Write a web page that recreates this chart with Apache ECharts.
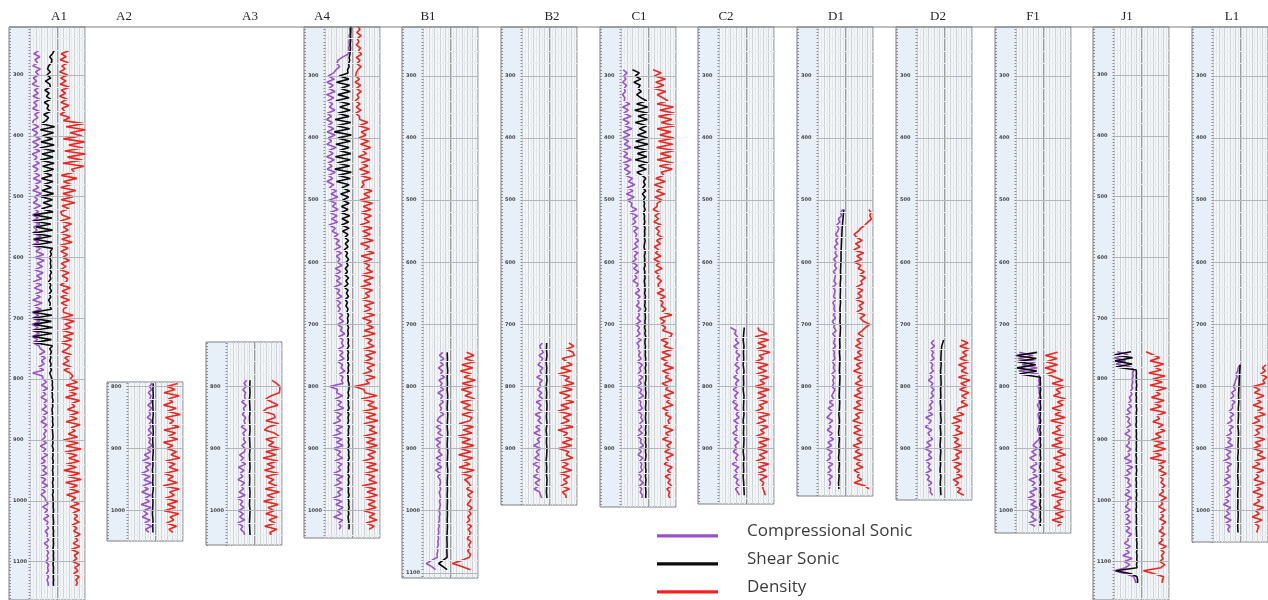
<!DOCTYPE html>
<html>
<head>
<meta charset="utf-8">
<title>Well log correlation</title>
<script src="https://cdn.jsdelivr.net/npm/echarts@6/dist/echarts.min.js"></script>
<style>
  html, body { margin: 0; padding: 0; background: #ffffff; }
  #chart { width: 1268px; height: 600px; }
</style>
</head>
<body>
<div id="chart"></div>
<script>
// ---- Wells, depth labels and sampling ----
const wells = ['A1', 'A2', 'A3', 'A4', 'B1', 'B2', 'C1', 'C2', 'D1', 'D2', 'F1', 'J1', 'L1'];
const depthLabels = [300, 400, 500, 600, 700, 800, 900, 1000, 1100];
const compStep = 5;   // compressional sonic and density sampling interval
// shear sonic sampling interval per well
const shearSteps = [5, 10, 10, 5, 10, 10, 5, 10, 10, 10, 5, 5, 10];
// depth of the first log sample in each well
const logTops = [260, 795, 790, 220, 745, 730, 290, 705, 515, 725, 745, 755, 765];

// ---- Log curves: sonic values are % of the sonic track, density % of the density track ----
const a1Comp = [30,12,34,16,26,8,36,18,30,10,22,6,32,14,28,9,35,12,24,8,33,15,27,10, 8,30,6,26,12,36,7,30,10,34,6,24,14,32,8,28, 12,34,10,38,16,30,8,40,14,26,10,36,12,30, 7,28,6,34,12,24,8,38,10,30,6,36, 20,48,16,50,24,44,14,46,22,40, 10,40,14,44,18,36,8,42,12,38, 6,30,8,34,5,28,10,32,6,26,8,30, 36,52,32,54,40,50,30,48,8,44, 46,58,40,62,44,56,38,60,48,58,42,62,44,56,38,60,46,58,48,54, 42,58,36,56,44,62,40,54,38,58,44,60,36,56,42,62,40,54,38,52, 56,64,44,62,52,66,48,64,58,66,54,62,60,66,50,64,58,66,60,64,56,66,62,65,58,66,60,64,65];
const a1Shear = [86,80,70,78,76,66,62,72, 60,74,54,70,72,52,68,58,74,50,66,60,72,48,66,56, 40,88,36,84,44,80,38,86,34,88,42,82,36,86,44,84, 46,78,40,82,48,76,42,84,38,80,46,78,40,82, 12,78,10,74,20,80,8,76,14,78,10,80, 72,76,70,74,72,75,71,76,70,74, 66,74,70,76,68,74,66,72,70,76, 10,78,8,76,12,80,6,78,10,76,14,80, 70,76,72,74,70,75,72,76,70,74, 78,80,79,81,78,80,79,82,80,81,78,80,79,81,80,82,79,80,81,82, 80,82,79,83,81,82,80,83,81,82,80,82,81,83,80,82,81,83,80,82, 82,83,82,84,83,82,83,84,83,82,84,83,84,83,84,83,82,84,83,84,83,82,84,83,84,83,84,83,84];
const a1Dens = [40,12,30,8,38,14,26,6,36,10,30,8,42,12,28,6,34,10,40,14,26,8,44,20, 95,30,100,45,88,20,98,40,92,25,100,35,90,18,96,50, 60,12,70,20,48,10,66,18,55,12,62,15,40,10, 15,45,8,50,20,38,10,46,14,52,8,38, 10,35,18,42,12,30,8,40,15,36, 30,8,45,15,38,10,42,12,36,20, 20,55,12,60,25,48,15,58,20,52,12,48, 35,15,50,25,40,18,48,22,45,55, 45,72,30,75,40,68,28,80,50,62,35,76,42,70,30,82,48,64,38,72, 20,75,30,85,25,70,40,78,30,68,22,80,35,86,28,72,42,78,32,66, 50,78,45,80,55,72,60,78,52,70,58,82,62,74,56,80,48,76,60,70,54,80,62,74,58,78,66,72,66];

const a2Comp = [86,76,84,72,82,78,86,70,84,74,80,68,86,76,82,72,84,70,80,74,86,68, 80,58,76,50,82,62,74,46,78,56,84,52,72,48,80,60,76,46,82,54,70,50,78,58,84,62,74];
const a2Shear = [90,89,90,88,89,90,88,89,90,88, 89,90,88,89,87,89,88,90,87,89, 88,87,89,88,89];
const a2Dens = [80,40,70,30,85,45,62,28,75,42,90,35,66,50,85,30,72,45,80,28,62,40,76,55,88,36,70,48,82,30,64,44,78,26,86,50,68,34,80,42,72,30,84,52,66,38,76,48,62];

const a3Comp = [70,60,68,56,66,62,64,52,68,58,62,54,66,60,64,50,68,56,62,58,66,52,64, 62,44,58,48,66,40,60,46,56,38,62,50,58,42,64,36,56,46,60,40,58,44,62,36,56,48,60,62];
const a3Shear = [82,81,82,80,81,82,80,81,82,80, 81,82,80,81,82,80,81,80,82,81, 80,82,81,80,81,82];
const a3Dens = [63,80,92,92,90,60,40,62,85,45,30,70,75,40,88,50,35,72,88,40,70,50,90,40,78,30,85,45,72,35,88,40,70,50,80,38,90,45,72,32,86,48,70,40,82,52,75,36,80,55,60];

const a4Comp = [90,88,89,86,88,85,87,84,86,82, 60,45,42,52,38,30, 10,32,5,28,12,35,4,30,8,26,14,34,6,22, 4,25,8,30,6,35,10,22,5,38,12,28,4,32,9,24,6,36,10,26,5,30, 14,40,20,45,12,38,25,46,16,42,22,44,12,36,24,46, 30,50,38,55,32,58,40,52,44,60,36,56,34,54,40,58,30,52,42,60,38,56,44,54, 46,62,50,66,44,60,54,70,48,64,58,66,46,64,52,68,44,62,56,70,50,64,58,64, 15,44, 40,62,35,58,45,66,30,60,42,55,28,62,38,58,25,60,40,64,30,56,44,62,34,60,46,56,28,64,40,58,32,62,44,56,26,60,38,64,42,58,30,62,48,56,50];
const a4Shear = [93,92,92,91,92,91,90,91,90,89, 86,88,84,86,80,82, 50,85,40,88,55,90,45,86,38,88,52,90,44,86, 35,92,40,88,32,94,45,90,38,86,50,92,36,90,42,88,34,94,46,90,40,86, 60,88,55,84,62,86,58,82,56,88,60,84,58,86,62,82, 70,84,72,82,68,80,74,84,76,82,72,80,70,84,74,82,68,82,76,84,72,80,74,82, 78,84,80,82,79,84,81,83,80,84,82,85,79,84,81,83,80,85,82,84,80,83,82,85, 86,85, 82,85,81,84,83,86,80,85,82,84,81,86,83,84,82,85,83,86,82,85,84,86,82,85,83,84,81,86,83,85,82,84,83,86,82,85,84,86,83,85,82,84,85,86,85];
const a4Dens = [18,26,14,30,16,22,12,28,20,32,12,26,14,30,18,12, 10,24,8,28,12,30,15,22,8,26,12,30,10,24, 25,55,20,60,30,48,22,58,28,65,35,50,20,62,30,55,24,60,28,66,34,40, 30,70,40,62,25,72,38,66,30,68,42,60,26,70,36,64, 35,75,28,60,45,78,30,70,38,62,48,72,32,76,40,66,28,72,46,60,34,78,42,68, 40,80,35,68,50,76,42,82,36,70,55,78,38,84,46,72,40,80,52,70,36,82,48,60, 5,40, 45,88,30,78,55,90,35,85,48,92,40,80,60,88,38,82,50,90,45,84,55,78,36,86,50,92,42,80,58,88,34,84,52,90,44,82,56,86,40,80,60,88,48,78,60];

const b1Comp = [70,58,74,60,72,54,70,62,76,56,68,60,74,52,70,62,72,58,66,60,74,56, 50,68,46,64,52,70,44,62,48,60,54,68,46,64,50,66,44,62,52,60, 62,58,63,57,60,62,58,61,59,56,60,57,58,55,57,54,56,53,55,52,54,50,52,49,50,30, 10,30,44];
const b1Shear = [86,87,86,88,86,87,86,88,87,86,88, 87,86,88,87,86,88,87,86,88, 87,86,87,86,87,86,87,86,87,86,85,86,85,86, 55,86];
const b1Dens = [58,85,50,88,40,80,35,75,48,90,42,82,38,76,52,88,36,72,46,84,40,78, 70,30,82,45,78,25,72,40,85,35,74,28,80,44,70,30,86,38,76,50, 65,72,58,80,62,75,70,60,78,66,74,62,70,58,76,64,72,68,60,74,66,70,62,72,68,40, 5,40,72];

const b2Comp = [72,62,68,76,60,74,66,56,74,64,70,52,72,62,66,54,70,60,74,50, 68,58,72,46,66,56,70,48,64,42,68,54,62,40,66,50,60,44,64,38, 62,50,58,40,64,46,60,42,62,66,70];
const b2Shear = [88,87,89,86,88,87,89,86,88,87, 89,88,87,89,86,88,87,89,88,86, 88,87,89,88,87,89];
const b2Dens = [70,88,60,85,90,45,62,82,40,78,30,72,56,88,45,82,35,75,50,88, 40,70,28,80,48,72,40,85,30,65,50,82,45,80,32,70,60,84,40,68, 45,80,36,72,50,64,40,72,46,58,60];

const c1Comp = [6,20,8,16,4,18,10,14,4,12, 10,30,4,25,8,35,5,28,12,38,6,30,4,26,10,34,5,22,8,36,6,28,10,32, 15,40,25,48,20,42,18,46,22,38, 35,55,30,58,42,52,38,60,45,56,50,62,48,58,40,60,46,54,38,58,44,62,48,56,42,60, 55,66,50,68,58,64,54,70,60,66,56,70,52,66,58,68,54,72,56,64,60,68, 62,72,58,76,66,70,60,78,64,72,58,74,66,80,62,70,68,76,60,74,70,78,66,74,62,76,58,72,68,80,64,72,60,78,66,74,70,76,62,72,66,80,64,74,68,76,74];
const c1Shear = [40,65,50,70,45,68,60,72,55,70, 92,55,95,48,96,60,94,50,92,65,90,58,95,52,96,46,94,58,92,50,96,62,90,56, 75,88,80,86,78,88,76,86,80,84, 82,86,80,84,83,85,82,86,84,85,83,86,84,82,85,86,83,85,84,86,82,85,84,86,83,85, 85,86,84,87,85,86,84,88,85,86,87,85,86,84,87,85,88,86,85,87,86,87, 86,88,87,89,86,88,87,89,88,86,88,87,89,88,87,89,88,87,89,88,87,88,89,88,87,89,86,88,87,89,88,87,89,88,86,88,87,89,88,87,89,88,87,88,89,88,88];
const c1Dens = [15,45,20,60,25,55,18,62,30,50, 70,30,90,40,95,35,85,45,96,30,80,40,92,35,88,28,94,42,82,30,90,38,86,45, 55,25,60,20,50,28,58,22,48,30, 30,15,40,22,35,18,45,25,38,30,50,28,42,20,36,24,44,18,40,26,48,22,38,30,46,34, 35,55,30,60,40,52,45,62,48,85,40,58,44,62,50,86,80,45,70,55,90,48, 80,45,70,55,90,50,75,60,85,48,70,62,92,55,78,65,88,50,72,60,82,70,76,54,88,62,74,50,84,66,78,58,90,64,72,56,86,68,80,60,78,70,84,66,76,72,78];

const c2Comp = [40,60,55,66,58,70,52,66,60,74,62,68,56,72,60,66,52,70,58,64, 50,68,55,62,48,66,54,70,60,72,52,68,58,64,48,66,54,70,56,62, 50,68,58,64,46,70,56,66,52,68,60,72,58,66,72];
const c2Shear = [90,88,86,89,87,88,86,89,87,88, 86,89,88,87,89,86,88,87,89,88, 86,89,87,88,86,88,89,90];
const c2Dens = [40,45,75,30,80,40,70,35,85,45,60,30,78,40,72,35,80,48,65,30, 82,40,70,38,76,45,60,32,84,42,70,36,78,50,64,34,82,44,72,38, 76,46,66,34,80,42,70,40,74,48,62,56,60,64,68];

const d1Comp = [88,80,84,72,78,66,74,70,62,72, 62,70,58,66,60,68,55,64,58,66,54,62,60,56,64,52,60,58,55,62,52,58,56,60,54,62,50,58,56,64, 52,60,58,55,62,52,58,56,60,50,58,54,60,48,58,52,56,50,60,54, 48,56,40,54,35,50,42,30,52,38,46,32,50,40,55,34,48,28,50,38,44,30,52,36,46,32,50,38,44,40,40];
const d1Shear = [92,90,88,86,85,84,83,82,82,81, 80,81,79,80,79,80,78,79,78,80, 79,77,78,76,78,77,76,78,77,76, 75,77,76,74,76,75,73,76,74,75, 73,76,74,75,73,74];
const d1Dens = [85,92,88,94,82,70,55,45,30,40, 60,35,52,28,65,40,58,32,55,45,68,50,72,55,60,38,62,44,58,36,66,48,60,40,70,52,64,88,72,60, 45,65,40,55,35,60,42,58,30,62,38,55,28,60,44,58,34,62,40,56, 30,62,38,55,28,65,35,50,25,60,30,55,28,62,40,58,26,52,34,60,28,56,38,62,30,50,42,58,30,70,85];

const d2Comp = [60,50,62,48,58,52,60,46,56,50,58,44,54,40,56,48,60,50,58,46, 56,44,52,38,55,30,50,42,28,52,38,46,55,34,48,26,50,40,52,30, 46,38,50,28,44,36,52,40,48,46,55];
const d2Shear = [95,88,86,85,86,84,85,86,84,85, 83,85,84,86,83,85,84,82,85,83, 84,82,85,83,84,85];
const d2Dens = [60,85,55,90,65,80,55,88,50,78,60,85,50,92,58,80,54,88,62,78, 60,84,50,45,70,30,60,25,55,40,65,28,50,35,58,30,62,40,52,26, 60,34,56,42,64,30,50,38,58,46,70];

const f1Comp = [10,60,5,70,20,75,8,80, 84,80,84,78,83,82,86,80,84,76,82,84,78,80,84,82,80,76,82,84, 82,70,60,78,55,72,48,66,74,50,70,58,76,45,68,56,74,48,66,40,70,52,76,46,62,54,72,44,68];
const f1Shear = [75,0,72,4,70,2,74,10, 87,86,87,86,88,86,87,88,86,87,88,86,87,85,88,86,87,85,88,86, 87,86,88,85,87,86,88,86,87,85,88,86,87,86,88,85,87,86,88,86,87,85,88,86,87,86,88,85,87];
const f1Dens = [50,5,48,8,50,4,45,10, 40,70,30,75,45,60,35,80,50,70,30,65,40,78,25,72,45,60,30,75, 40,68,28,70,50,80,35,62,45,75,30,70,52,82,38,66,44,78,28,72,48,60,36,76,42,70,30,66,50];

const j1Comp = [10,50,0,40,5,60, 70,66,68,64,67,62,66,58,64,54,60,50,62,46,58,40,55,48,60,44,56,38,58,50,54,42,60,48,56,36, 62,40,66,44,58,36,54,48,60,42,56,38,62,46,50,40,58,36,54,44,60,38,56,42,62,48,50,36,58,40,54,30,64,36,56,40, 0,40,70,74,78];
const j1Shear = [60,0,66,2,64,5, 79,80,79,80,79,81,79,80,78,80,79,80,79,81,79,80,79,80,78,80,79,80,79,81,79,80,79,80,78,80, 79,80,79,81,79,80,78,80,79,80,79,81,79,80,79,80,78,80,79,80,79,81,79,80,80,81,80,82,81,82,80,82,81,82,80,82, 5,60,82,84,84];
const j1Dens = [15,40,65,30,80,45, 70,25,85,40,75,30,90,50,68,35,82,45,72,30,88,55,65,40,78,60,85,50,70,35,80,45,88,40,72,30, 88,60,80,62,90,66,78,70,85,72,80,64,90,70,76,62,86,68,80,66,88,72,78,64,84,70,76,62,90,68,82,72,78,66,84,70, 5,45,80,76,74];

const l1Comp = [96,90,88,82,86,80,78,72,80,66,74,62,78,68,70,56,74,60,68,50, 72,58,66,46,64,52,70,40,64,48,60,36,66,50,56,44,62,40,58,36, 64,48,60,42,56,36,62,46,58,40,64,44,60,52,58];
const l1Shear = [97,95,94,93,92,91,92,90,91,90, 89,91,90,89,90,88,90,89,88,90, 89,88,89,88,90,89,88,89];
const l1Dens = [92,80,90,72,96,82,88,45,70,50,85,55,75,45,80,60,90,50,70,42, 82,55,68,48,88,52,72,45,80,60,90,50,70,42,84,55,66,48,86,52, 74,44,80,58,70,46,84,54,68,42,78,50,66,62,58];

const compLogs = [a1Comp, a2Comp, a3Comp, a4Comp, b1Comp, b2Comp, c1Comp, c2Comp, d1Comp, d2Comp, f1Comp, j1Comp, l1Comp];
const shearLogs = [a1Shear, a2Shear, a3Shear, a4Shear, b1Shear, b2Shear, c1Shear, c2Shear, d1Shear, d2Shear, f1Shear, j1Shear, l1Shear];
const densLogs = [a1Dens, a2Dens, a3Dens, a4Dens, b1Dens, b2Dens, c1Dens, c2Dens, d1Dens, d2Dens, f1Dens, j1Dens, l1Dens];

// ---- Layout ----
const panelLeft = [9, 107, 206, 304, 402, 501, 600, 698, 797, 896, 995, 1093, 1192];
const panelTop = [27, 382, 342, 27, 27, 27, 27, 27, 27, 27, 27, 27, 27];
const panelBottom = [612, 541, 545, 538, 578, 505, 507, 504, 496, 500, 533, 612, 542];
const labelX = [59, 124, 250, 322, 428, 552, 639, 726, 836, 938, 1033, 1127, 1232];
const DEPTH_W = 21.5, SONIC_W = 27.5, DENS_W = 27;
// shared depth scale: depth 300 sits at y = 76, 0.621 px per depth unit
const REF_DEPTH = 300, REF_Y = 76, PX_PER_UNIT = 0.621;
const depthAtY = y => REF_DEPTH + (y - REF_Y) / PX_PER_UNIT;

const PURPLE = '#9a52cc', BLACK = '#0c0c0c', RED = '#f2241c';
const BORDER = '#7f7f7f', DEPTH_BG = '#e7eff8', TRACK_BG = '#f3f6f9';
const MAJOR_LINE = '#b3b7bb', MINOR_LINE = '#e9ecef';

function depthGridLines(dMin, dMax) {
  const data = [];
  for (let d = Math.ceil(dMin / 20) * 20; d <= dMax; d += 20) {
    data.push({ yAxis: d, lineStyle: { color: d % 100 === 0 ? MAJOR_LINE : MINOR_LINE, width: 1, type: 'solid' } });
  }
  return { silent: true, symbol: ['none', 'none'], label: { show: false }, animation: false, emphasis: { disabled: true }, data };
}

const grids = [], xAxes = [], yAxes = [], series = [];

wells.forEach((name, w) => {
  const top = panelTop[w], bottom = panelBottom[w];
  const dMin = depthAtY(top), dMax = depthAtY(bottom);
  const lefts = [panelLeft[w], panelLeft[w] + DEPTH_W, panelLeft[w] + DEPTH_W + SONIC_W];
  const widths = [DEPTH_W, SONIC_W, DENS_W];
  const base = grids.length;

  for (let k = 0; k < 3; k++) {
    grids.push({
      left: lefts[k], top: top, width: widths[k], height: bottom - top,
      show: true, backgroundColor: k === 0 ? DEPTH_BG : TRACK_BG,
      borderColor: BORDER, borderWidth: 1
    });
  }

  // depth track: small ticks along both edges and tiny depth labels
  const tickVals = [];
  for (let d = Math.ceil(dMin / 5) * 5; d <= dMax; d += 5) tickVals.push(d);
  const labelVals = depthLabels.filter(d => d >= dMin && d <= dMax);
  const depthAxis = {
    gridIndex: base, type: 'value', inverse: true, min: dMin, max: dMax,
    axisLine: { show: false },
    axisTick: { show: true, inside: true, length: 2, customValues: tickVals, lineStyle: { color: '#8d8d8d', width: 1 } },
    splitLine: { show: false }
  };
  xAxes.push({ gridIndex: base, type: 'value', min: 0, max: 1, show: false });
  yAxes.push(Object.assign({}, depthAxis, {
    position: 'left',
    axisLabel: { show: true, inside: true, margin: 4, customValues: labelVals, formatter: v => String(v), fontSize: 5, fontWeight: 'bold', fontFamily: 'DejaVu Sans', color: '#444444' }
  }));
  yAxes.push(Object.assign({}, depthAxis, { position: 'right', axisLabel: { show: false } }));

  // sonic and density tracks
  const trackAxis = [];
  for (let k = 1; k < 3; k++) {
    xAxes.push({
      gridIndex: base + k, type: 'value', min: 0, max: 100, interval: 20,
      axisLine: { show: false }, axisTick: { show: false }, axisLabel: { show: false },
      splitLine: { show: true, lineStyle: { color: '#cfd3d7', width: 1 } },
      minorTick: { show: false, splitNumber: 2 },
      minorSplitLine: { show: true, lineStyle: { color: '#e6e9ec', width: 1 } }
    });
    trackAxis.push({ x: xAxes.length - 1, y: yAxes.length });
    yAxes.push({
      gridIndex: base + k, type: 'value', inverse: true, min: dMin, max: dMax,
      axisLine: { show: false }, axisTick: { show: false }, axisLabel: { show: false },
      splitLine: { show: false }
    });
  }

  const toPoints = (arr, step) => arr.map((v, i) => [v, logTops[w] + i * step]);
  const common = { type: 'line', showSymbol: false, symbol: 'none', animation: false, silent: true, clip: true };

  series.push(Object.assign({}, common, {
    name: 'Compressional Sonic', xAxisIndex: trackAxis[0].x, yAxisIndex: trackAxis[0].y,
    data: toPoints(compLogs[w], compStep), z: 2,
    lineStyle: { color: PURPLE, width: 1.6 }, itemStyle: { color: PURPLE },
    markLine: depthGridLines(dMin, dMax)
  }));
  series.push(Object.assign({}, common, {
    name: 'Shear Sonic', xAxisIndex: trackAxis[0].x, yAxisIndex: trackAxis[0].y,
    data: toPoints(shearLogs[w], shearSteps[w]), z: 3,
    lineStyle: { color: BLACK, width: 1.6 }, itemStyle: { color: BLACK }
  }));
  series.push(Object.assign({}, common, {
    name: 'Density', xAxisIndex: trackAxis[1].x, yAxisIndex: trackAxis[1].y,
    data: toPoints(densLogs[w], compStep), z: 2,
    lineStyle: { color: RED, width: 1.6 }, itemStyle: { color: RED },
    markLine: depthGridLines(dMin, dMax)
  }));
});

const graphics = [
  { type: 'line', shape: { x1: 9, y1: 27, x2: 1268, y2: 27 }, style: { stroke: BORDER, lineWidth: 1 }, silent: true, z: 10 }
];
wells.forEach((name, w) => {
  graphics.push({
    type: 'text', x: labelX[w], y: 17, silent: true,
    style: { text: name, fill: '#262626', font: '13px "Liberation Serif"', textAlign: 'center', textVerticalAlign: 'middle' }
  });
});

const chart = echarts.init(document.getElementById('chart'), null, { renderer: 'canvas' });
chart.setOption({
  animation: false,
  backgroundColor: '#ffffff',
  grid: grids,
  xAxis: xAxes,
  yAxis: yAxes,
  series: series,
  legend: {
    orient: 'vertical', left: 657, top: 523, height: 120, padding: 0,
    itemWidth: 61, itemHeight: 12, itemGap: 11,
    icon: 'path://M0,0 L0.01,0 L0.01,0.01 Z M0,8 L61,8 L61,11 L0,11 Z',
    symbolKeepAspect: false,
    selectedMode: false,
    data: ['Compressional Sonic', 'Shear Sonic', 'Density'],
    textStyle: { fontFamily: 'Open Sans', fontSize: 17, color: '#3c3c3c', padding: [0, 0, 0, 24] }
  },
  graphic: graphics
});
</script>
</body>
</html>
